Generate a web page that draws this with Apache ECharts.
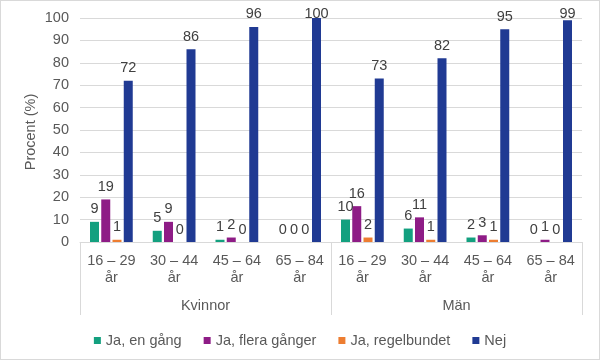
<!DOCTYPE html>
<html>
<head>
<meta charset="utf-8">
<script src="https://cdn.jsdelivr.net/npm/echarts@6/dist/echarts.min.js"></script>
<style>
html,body{margin:0;padding:0;background:#fff;}
#c{width:600px;height:360px;box-sizing:border-box;border:1px solid #d9d9d9;}
</style>
</head>
<body>
<div id="c"></div>
<script>
const ageGroups = ['16 – 29\når','30 – 44\når','45 – 64\når','65 – 84\når','16 – 29\når','30 – 44\når','45 – 64\når','65 – 84\når'];
const genders = ['Kvinnor','Män'];
const seriesNames = ['Ja, en gång','Ja, flera gånger','Ja, regelbundet','Nej'];
const jaEnGang = [9,5,1,0,10,6,2,0];
const jaFleraGanger = [19,9,2,0,16,11,3,1];
const jaRegelbundet = [1,0,0,0,2,1,1,0];
const nej = [72,86,96,100,73,82,95,99];
const yTicks = [0,10,20,30,40,50,60,70,80,90,100];
const yTitle = 'Procent (%)';

const colors = ['#13a07f','#8e1c86','#ed7d31','#203a93'];
const values = [jaEnGang, jaFleraGanger, jaRegelbundet, nej];
const font = 'Arial, "Liberation Sans", sans-serif';

const chart = echarts.init(document.getElementById('c'), null, {renderer:'canvas'});
chart.setOption({
  animation:false,
  textStyle:{fontFamily:font},
  grid:{left:79,right:17,top:17,bottom:117,containLabel:false},
  legend:{
    top:327, left:'center',
    itemWidth:7, itemHeight:7, itemGap:22,
    icon:'rect',
    textStyle:{color:'#595959', fontSize:14.5, fontFamily:font},
    data:seriesNames
  },
  graphic:[{
    type:'text', x:30, y:131, rotation:Math.PI/2,
    style:{text:yTitle, fill:'#595959', font:'14.5px ' + font, textAlign:'center', textVerticalAlign:'middle'}
  }],
  xAxis:[{
    type:'category', data:ageGroups,
    axisLine:{show:true,lineStyle:{color:'#d9d9d9'}},
    axisTick:{show:false},
    axisLabel:{color:'#595959',fontSize:14.5,lineHeight:17,margin:10,interval:0,fontFamily:font}
  },{
    type:'category', data:genders, position:'bottom',
    axisLine:{show:false},
    axisTick:{show:true,length:73,lineStyle:{color:'#d9d9d9'}},
    axisLabel:{color:'#595959',fontSize:14.5,margin:56,fontFamily:font},
    splitLine:{show:false}
  }],
  yAxis:{
    type:'value', min:yTicks[0], max:yTicks[yTicks.length-1], interval:10,
    axisLine:{show:false}, axisTick:{show:false},
    axisLabel:{color:'#595959',fontSize:14.5,margin:11,fontFamily:font},
    splitLine:{lineStyle:{color:'#d9d9d9'}}
  },
  series: seriesNames.map((n,i)=>({
    name:n, type:'bar', data:values[i], xAxisIndex:0,
    barWidth:9, barGap:'25%',
    itemStyle:{color:colors[i]},
    label:{show:true,position:'top',distance:5,color:'#404040',fontSize:14.5,fontFamily:font},
    labelLayout: function(p){
      return {x:p.labelRect.x, y:Math.max(p.labelRect.y, 5), align:'left', verticalAlign:'top'};
    }
  }))
});
</script>
</body>
</html>
